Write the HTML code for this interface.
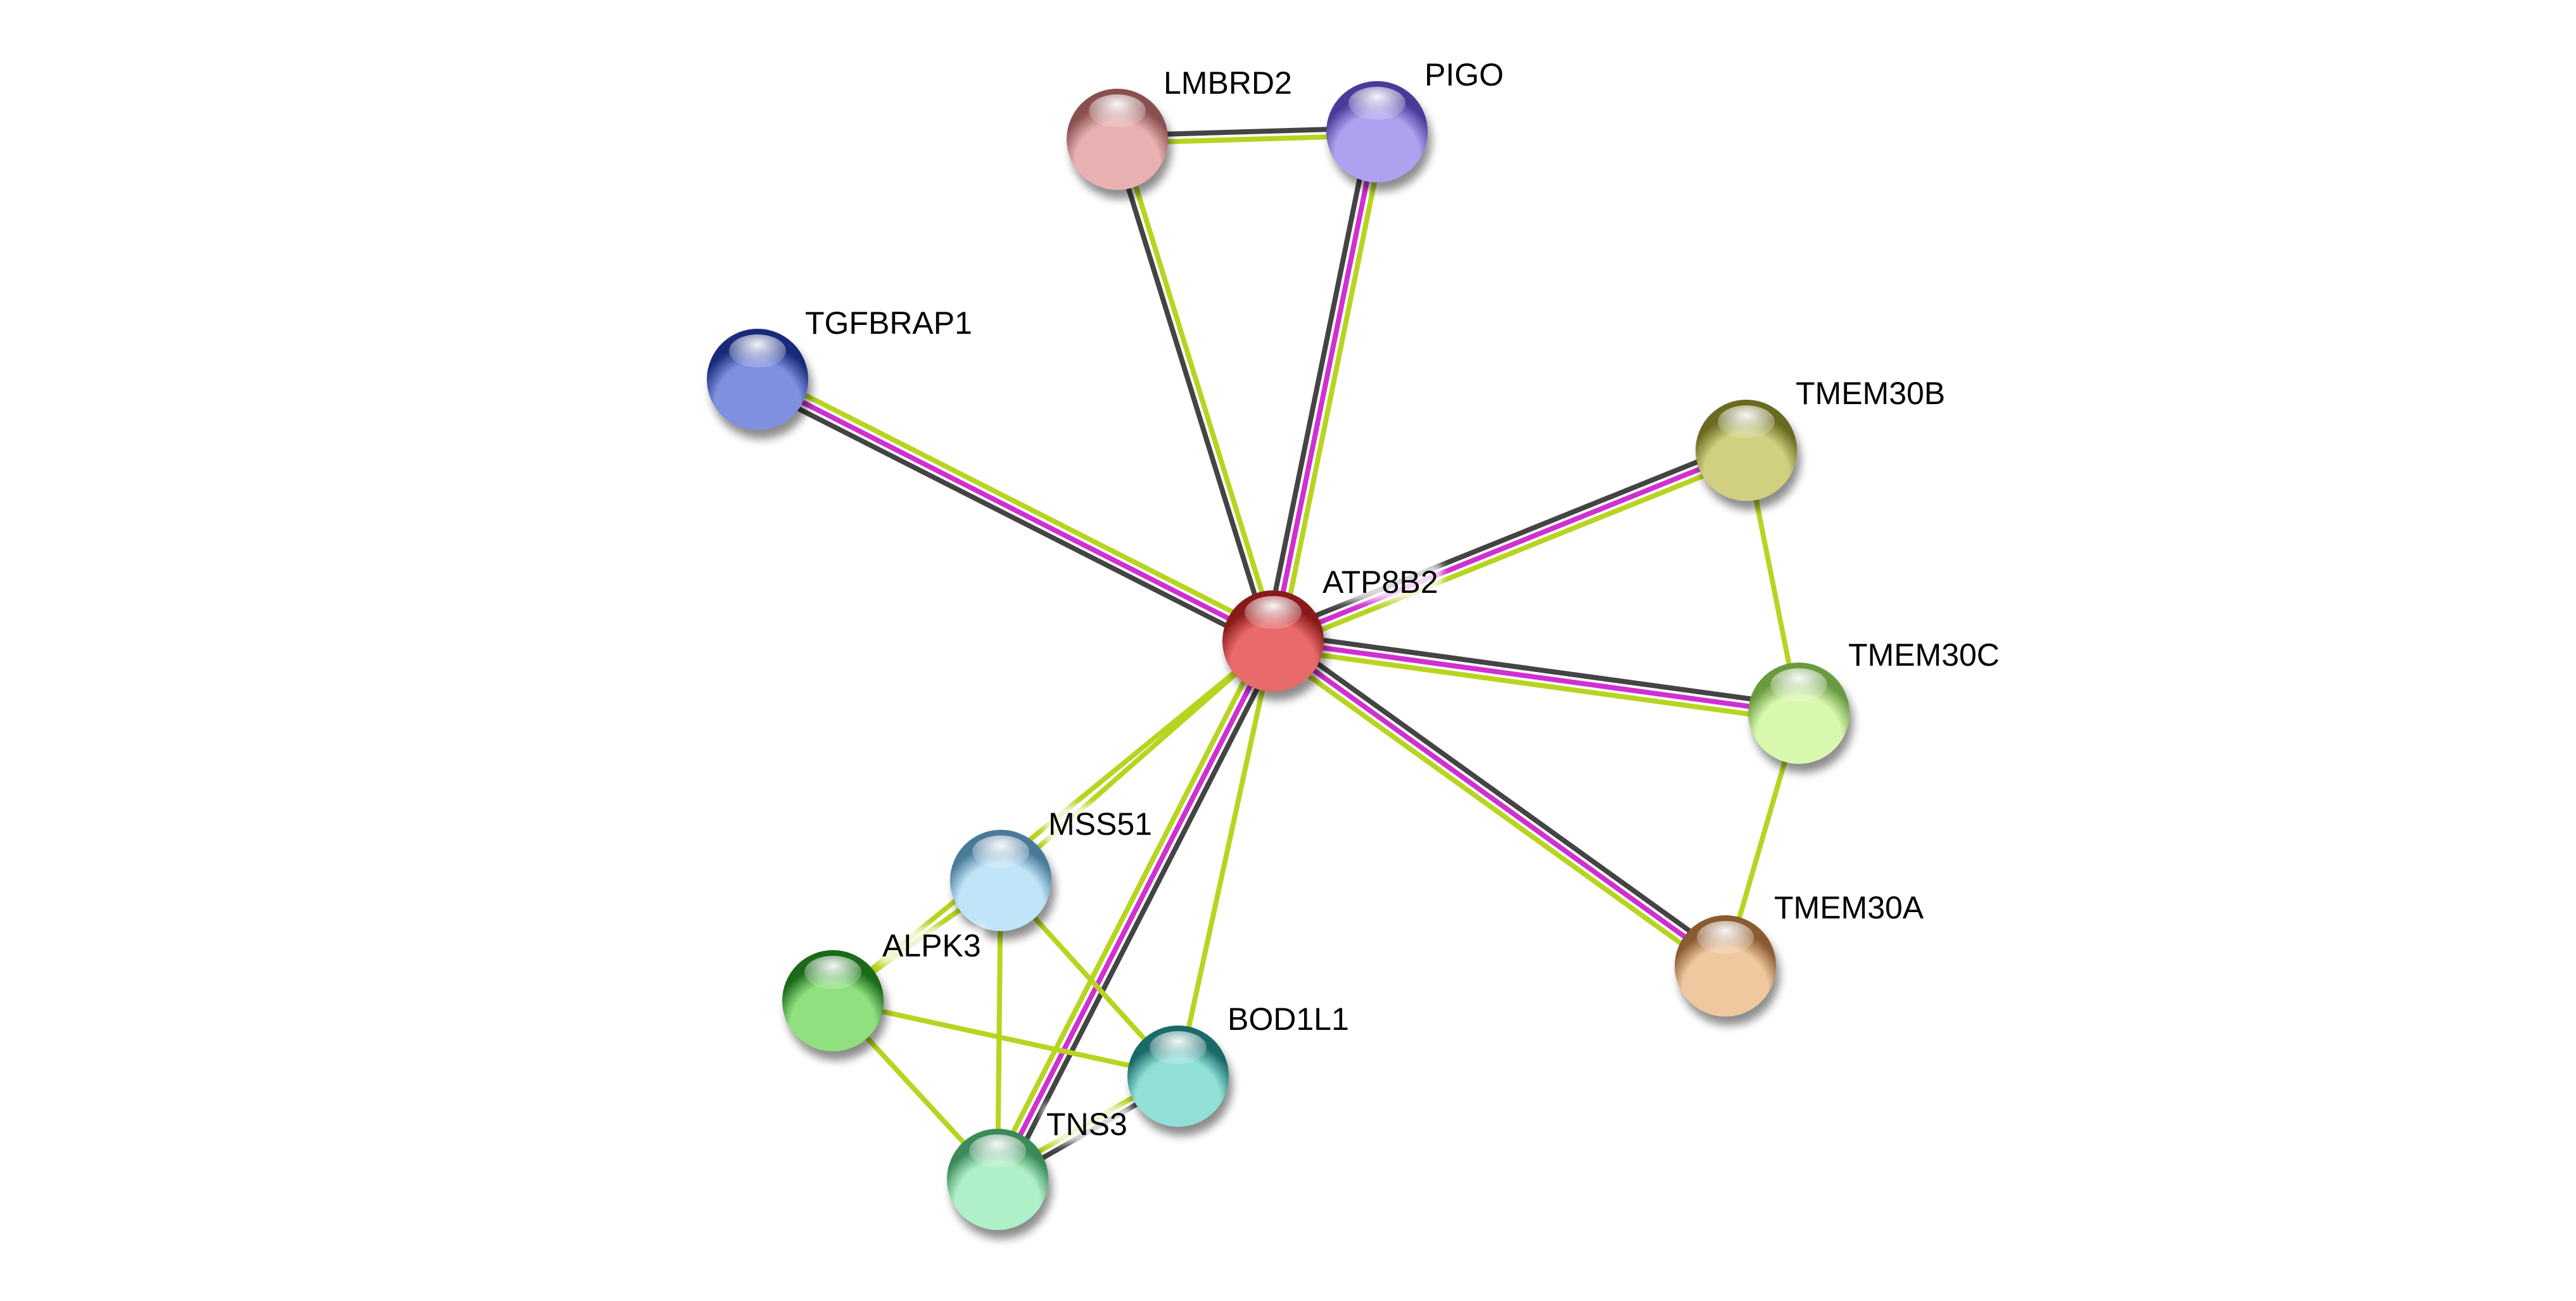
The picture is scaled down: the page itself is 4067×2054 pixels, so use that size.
<!DOCTYPE html>
<html><head><meta charset="utf-8"><style>
html,body{margin:0;padding:0;background:#fff;}
svg{display:block;}
text{font-family:"Liberation Sans",sans-serif;font-size:50px;fill:#000;}
</style></head><body>
<svg id="s" width="4067" height="2054" viewBox="0 0 4067 2054" xmlns="http://www.w3.org/2000/svg">
<defs>
<filter id="glow" x="-20%" y="-40%" width="140%" height="180%"><feGaussianBlur stdDeviation="6"/></filter>
<filter id="sh" x="-30%" y="-30%" width="160%" height="160%"><feGaussianBlur stdDeviation="7"/></filter>
<radialGradient id="hl" cx="50%" cy="30%" r="60%"><stop offset="0" stop-color="#fff" stop-opacity="0.95"/><stop offset="1" stop-color="#fff" stop-opacity="0.2"/></radialGradient>
</defs>
<g id="edges"></g>
<g id="nodes"></g>
<g id="labels">
<text x="1837" y="148">LMBRD2</text>
<text x="2249" y="135">PIGO</text>
<text x="1271" y="527">TGFBRAP1</text>
<text x="2835" y="638">TMEM30B</text>
<text x="2088" y="936">ATP8B2</text>
<text x="2918" y="1051">TMEM30C</text>
<text x="2801" y="1450">TMEM30A</text>
<text x="1655" y="1318">MSS51</text>
<text x="1393" y="1510">ALPK3</text>
<text x="1938" y="1626">BOD1L1</text>
<text x="1652" y="1792">TNS3</text>
</g>
</svg>
<script>
var N={
ATP8B2:[2010,1012,'#e86a6a','#8a1a1a'],
LMBRD2:[1764,220,'#e8b0b0','#8a5050'],
PIGO:[2174,208,'#b0a0f0','#4a3a9a'],
TGFBRAP1:[1196,599,'#8090e0','#1a2a7a'],
TMEM30B:[2757,711,'#d0d080','#6a6a20'],
TMEM30C:[2840,1126,'#d8f8b0','#6a9a40'],
TMEM30A:[2724,1525,'#f0c8a0','#8a5a30'],
MSS51:[1580,1390,'#c0e4f8','#4a7a9a'],
ALPK3:[1315,1580,'#90e080','#1a6a1a'],
BOD1L1:[1860,1699,'#90e0d8','#1a6a6a'],
TNS3:[1575,1862,'#b0f0c8','#3a8a5a']};
var K='#444',M='#d030d0',G='#b8d420';
var E=[
['ATP8B2','LMBRD2',[K,G]],['ATP8B2','PIGO',[K,M,G]],['ATP8B2','TGFBRAP1',[K,M,G]],
['ATP8B2','TMEM30B',[K,M,G]],['ATP8B2','TMEM30C',[K,M,G]],['ATP8B2','TMEM30A',[K,M,G]],
['ATP8B2','TNS3',[K,M,G]],['ATP8B2','MSS51',[G]],['ATP8B2','ALPK3',[G]],['ATP8B2','BOD1L1',[G]],
['LMBRD2','PIGO',[K,G]],['TMEM30B','TMEM30C',[G]],['TMEM30C','TMEM30A',[G]],
['MSS51','ALPK3',[G]],['MSS51','TNS3',[G]],['MSS51','BOD1L1',[G]],['ALPK3','BOD1L1',[G]],
['ALPK3','TNS3',[G]],['BOD1L1','TNS3',[K,G]]];
var ns='http://www.w3.org/2000/svg',eg=document.getElementById('edges'),ng=document.getElementById('nodes');
function el(t,a,p){var e=document.createElementNS(ns,t);for(var k in a)e.setAttribute(k,a[k]);p.appendChild(e);return e;}
E.forEach(function(e){var a=N[e[0]],b=N[e[1]];var dx=b[0]-a[0],dy=b[1]-a[1],L=Math.hypot(dx,dy);var px=-dy/L,py=dx/L;var n=e[2].length;
e[2].forEach(function(c,i){var o=(i-(n-1)/2)*12;el('line',{x1:a[0]+px*o,y1:a[1]+py*o,x2:b[0]+px*o,y2:b[1]+py*o,stroke:c,'stroke-width':8},eg);});});
var defs=document.querySelector('defs');
Object.keys(N).forEach(function(k,i){var n=N[k];var id='g'+i;
var g=el('radialGradient',{id:id,cx:'50%',cy:'75%',r:'60%'},defs);
el('stop',{offset:'0','stop-color':n[2]},g);
el('stop',{offset:'0.7','stop-color':n[2]},g);
el('stop',{offset:'1','stop-color':n[3]},g);
el('ellipse',{cx:n[0]+6,cy:n[1]+14,rx:80,ry:80,fill:'#000',opacity:0.45,filter:'url(#sh)'},ng);
el('circle',{cx:n[0],cy:n[1],r:80,fill:'url(#'+id+')'},ng);
el('ellipse',{cx:n[0],cy:n[1]-45,rx:45,ry:26,fill:'url(#hl)'},ng);
});
var lg=document.getElementById('labels');
Array.prototype.slice.call(lg.querySelectorAll('text')).forEach(function(t){var b=t.getBBox();
el('rect',{x:b.x-6,y:b.y-2,width:b.width+12,height:b.height+4,fill:'#fff',opacity:0.8,filter:'url(#glow)'},lg);
lg.insertBefore(lg.lastChild,lg.firstChild);});
</script>
</body></html>
